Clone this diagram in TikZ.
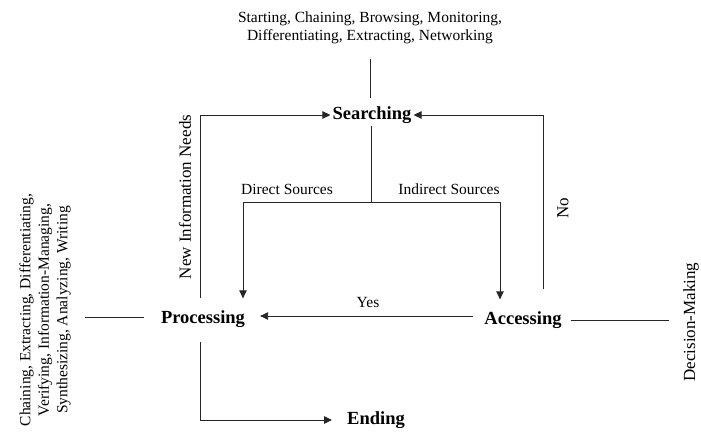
\documentclass[tikz,border=0pt]{standalone}
\usepackage{fontspec}
\setmainfont{Liberation Serif}
\usetikzlibrary{arrows.meta}
\begin{document}
\begin{tikzpicture}[x=1pt,y=-1pt,
  txt/.style={font=\fontsize{15.5}{18.5}\selectfont, inner sep=2pt, align=center},
  rtxt/.style={font=\fontsize{17}{18.5}\selectfont, inner sep=2pt, align=center, rotate=90},
  main/.style={font=\fontsize{18.5}{22}\selectfont\bfseries, inner sep=2pt},
  conn/.style={line width=0.9pt, draw=black!85},
  arr/.style={conn, -{Triangle[length=8pt,width=7.5pt]}}]
\useasboundingbox (0,0) rectangle (701,435);
% main nodes
\node[main] (S) at (372,115) {Searching};
\node[main] (P) at (203,319) {Processing};
\node[main] (A) at (523,320) {Accessing};
\node[main] (E) at (376,420) {Ending};
% description texts
\node[txt] (top) at (370,28) {Starting, Chaining, Browsing, Monitoring,\\Differentiating, Extracting, Networking};
\node[txt, rotate=90] (left) at (45,310) {Chaining, Extracting, Differentiating,\\Verifying, Information-Managing,\\Synthesizing, Analyzing, Writing};
\node[rtxt] (DM) at (691,322) {Decision-Making};
% labels
\node[rtxt] (nin) at (185,197) {New Information Needs};
\node[rtxt] (no) at (563,208) {No};
\node[txt] (yes) at (368,303) {Yes};
\node[txt] (ds) at (287,189) {Direct Sources};
\node[txt] (is) at (449,189) {Indirect Sources};
\coordinate (br) at (371,202);
\coordinate (pw) at ([yshift=2pt]P.west);
% connectors
\draw[conn, shorten <=13pt, shorten >=6pt] (top.south) -- (S.north -| top.south);
\draw[conn] (S.south -| br) -- (br);
\draw[arr, shorten >=10pt] (br) -| ([xshift=40pt]P.north);
\draw[arr, shorten >=10pt] (br) -| ([xshift=-23pt]A.north);
\draw[arr, shorten <=10pt] ([xshift=-3pt]P.north) |- (S.west);
\draw[arr, shorten <=20pt] ([xshift=20pt]A.north) |- (S.east);
\draw[arr, shorten <=9pt, shorten >=13pt] ([yshift=4pt]A.west) -- ([yshift=3pt]P.east);
\draw[arr, shorten <=12pt, shorten >=13pt] ([xshift=-3pt]P.south) |- (E.west);
\draw[conn, shorten <=15pt, shorten >=12pt] (pw) -- (left.south |- pw);
\draw[conn, shorten <=7pt, shorten >=12pt] (A.east) -- (DM.north |- A.east);
\end{tikzpicture}
\end{document}
